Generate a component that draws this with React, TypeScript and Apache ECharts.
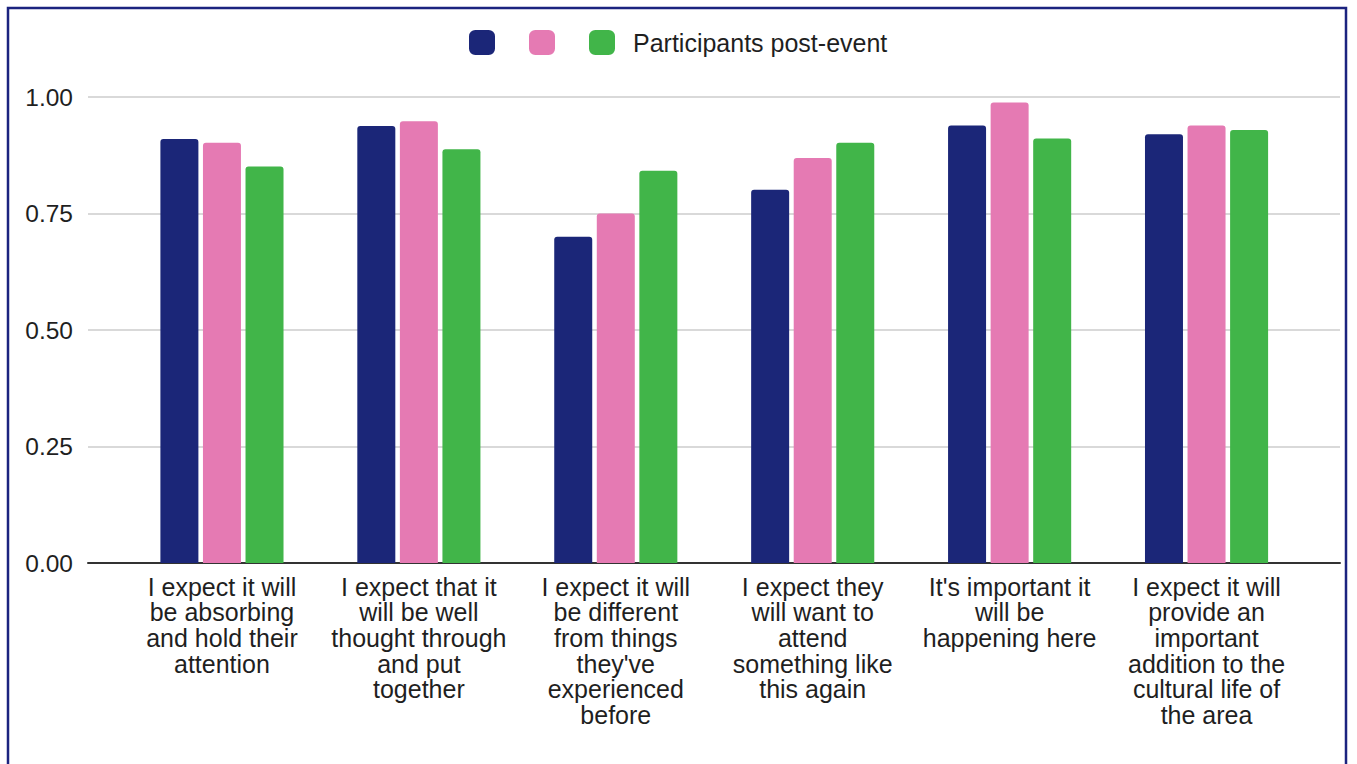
import React, { useEffect, useRef } from "react";
import * as echarts from "echarts";

const categories = [
  "I expect it will\nbe absorbing\nand hold their\nattention",
  "I expect that it\nwill be well\nthought through\nand put\ntogether",
  "I expect it will\nbe different\nfrom things\nthey've\nexperienced\nbefore",
  "I expect they\nwill want to\nattend\nsomething like\nthis again",
  "It's important it\nwill be\nhappening here",
  "I expect it will\nprovide an\nimportant\naddition to the\ncultural life of\nthe area",
];

const seriesNames = ["Series 1", "Series 2", "Participants post-event"];
const shownLegendNames = ["Participants post-event"];

const navyValues = [0.91, 0.938, 0.70, 0.801, 0.939, 0.92];
const pinkValues = [0.902, 0.948, 0.75, 0.869, 0.988, 0.939];
const greenValues = [0.851, 0.888, 0.842, 0.902, 0.911, 0.929];

const yTicks = [0, 0.25, 0.5, 0.75, 1];

const colors = ["#1b2678", "#e57ab3", "#41b549"];

export default function App() {
  const ref = useRef<HTMLDivElement>(null);

  useEffect(() => {
    if (!ref.current) return;
    const chart = echarts.init(ref.current, null, { renderer: "svg" });
    const font = "'Liberation Sans', Arial, Helvetica, sans-serif";
    const values = [navyValues, pinkValues, greenValues];
    const legendLefts = [469, 529, 589];

    chart.setOption({
      animation: false,
      backgroundColor: "#ffffff",
      textStyle: { fontFamily: font },
      legend: seriesNames.map((n, i) => ({
        data: [n],
        left: legendLefts[i],
        top: 30,
        padding: 0,
        itemWidth: 26,
        itemHeight: 25,
        itemStyle: { borderRadius: 3 },
        selectedMode: false,
        formatter: (name: string) => (shownLegendNames.includes(name) ? name : ""),
        textStyle: {
          fontFamily: font,
          fontSize: 25,
          lineHeight: 25,
          color: "#1f1f1f",
          padding: [0, 0, 0, 13],
        },
      })),
      grid: [
        { left: 88, right: 17, top: 97, bottom: 201 },
        { left: 123.5, right: 52, top: 97, bottom: 201 },
      ],
      xAxis: [
        {
          gridIndex: 0,
          type: "value",
          min: 0,
          max: 1,
          axisLine: { show: true, lineStyle: { color: "#333333", width: 2 } },
          axisTick: { show: false },
          axisLabel: { show: false },
          splitLine: { show: false },
        },
        {
          gridIndex: 1,
          type: "category",
          data: categories,
          axisLine: { show: false },
          axisTick: { show: false },
          axisLabel: {
            interval: 0,
            margin: 11,
            fontFamily: font,
            fontSize: 25,
            lineHeight: 25.6,
            color: "#1f1f1f",
            align: "center",
            verticalAlign: "top",
          },
        },
      ],
      yAxis: [
        {
          gridIndex: 0,
          type: "value",
          min: 0,
          max: 1,
          interval: 0.25,
          axisLine: { show: false },
          axisTick: { show: false },
          axisLabel: {
            margin: 15,
            fontFamily: font,
            fontSize: 24.5,
            color: "#1f1f1f",
            formatter: (v: number) =>
              yTicks.includes(v) ? v.toFixed(2) : "",
          },
          splitLine: { show: true, lineStyle: { color: "#cccccc", width: 1.5 } },
        },
        {
          gridIndex: 1,
          type: "value",
          min: 0,
          max: 1,
          show: false,
        },
      ],
      series: seriesNames.map((n, i) => ({
        name: n,
        type: "bar",
        xAxisIndex: 1,
        yAxisIndex: 1,
        data: values[i],
        barWidth: 38,
        barGap: "12%",
        itemStyle: { color: colors[i], borderRadius: [3, 3, 0, 0] },
      })),
      graphic: [
        {
          type: "rect",
          shape: { x: 8, y: 8, width: 1338, height: 1000 },
          style: { fill: "none", stroke: "#1b237f", lineWidth: 2.5 },
          silent: true,
        },
      ],
    });

    return () => chart.dispose();
  }, []);

  return (
    <div
      ref={ref}
      style={{ position: "absolute", left: 0, top: 0, width: 1357, height: 764 }}
    />
  );
}
